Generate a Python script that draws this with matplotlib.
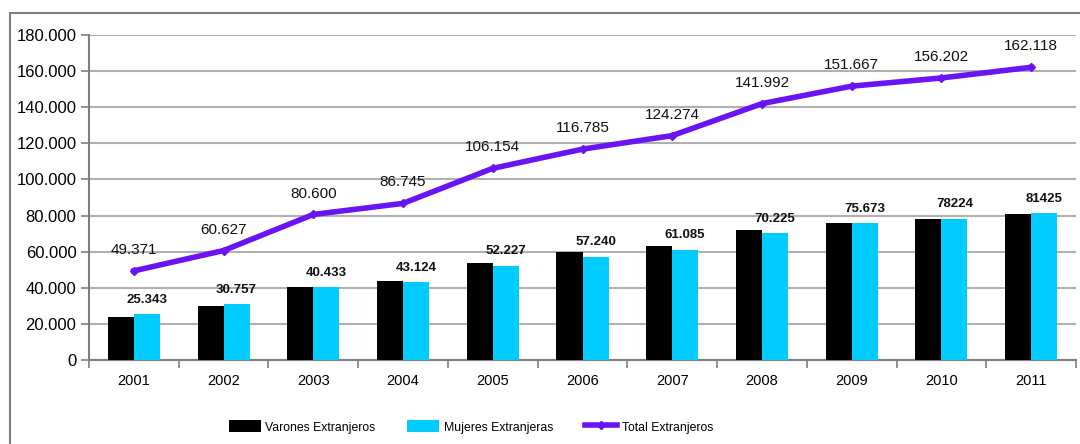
import matplotlib
matplotlib.use("Agg")
import matplotlib.pyplot as plt
from matplotlib.patches import Rectangle
from matplotlib.ticker import FuncFormatter

plt.rcParams['font.family'] = ['Liberation Sans', 'DejaVu Sans']

years = ["2001", "2002", "2003", "2004", "2005", "2006", "2007", "2008", "2009", "2010", "2011"]
varones = [24028, 29870, 40167, 43621, 53927, 59545, 63189, 71767, 75994, 77978, 80693]
mujeres = [25343, 30757, 40433, 43124, 52227, 57240, 61085, 70225, 75673, 78224, 81425]
total = [49371, 60627, 80600, 86745, 106154, 116785, 124274, 141992, 151667, 156202, 162118]
mujeres_labels = ["25.343", "30.757", "40.433", "43.124", "52.227", "57.240", "61.085", "70.225", "75.673", "78224", "81425"]
total_labels = ["49.371", "60.627", "80.600", "86.745", "106.154", "116.785", "124.274", "141.992", "151.667", "156.202", "162.118"]

fig = plt.figure(figsize=(10.8, 4.44), dpi=100)
fig.patch.set_facecolor('white')
# outer frame
fig.add_artist(Rectangle((10/1080, 1-13/444 - 2), 3, 2, transform=fig.transFigure,
                         fill=False, edgecolor='#7f7f7f', linewidth=1.5, clip_on=False))

ax = fig.add_axes([89/1080, 1-360/444, (1076-89)/1080, (360-35)/444])
x = list(range(len(years)))
w = 0.29
hv = ax.bar([i - w/2 for i in x], varones, width=w, color='black', label='Varones Extranjeros', zorder=3)
hm = ax.bar([i + w/2 for i in x], mujeres, width=w, color='#00CCFF', label='Mujeres Extranjeras', zorder=3)
ht, = ax.plot(x, total, color='#6A14F5', linewidth=4, marker='D', markersize=4.5,
              label='Total Extranjeros', zorder=4)

for i in x:
    ax.annotate(mujeres_labels[i], (i + w/2, mujeres[i]), xytext=(0, 6), textcoords='offset points',
                ha='center', va='bottom', fontsize=9.5, fontweight='bold', color='#111111', zorder=5)
    ax.annotate(total_labels[i], (i, total[i]), xytext=(0, 10), textcoords='offset points',
                ha='center', va='bottom', fontsize=11, color='#111111', zorder=5)

ax.set_xlim(-0.5, len(years) - 0.5)
ax.set_ylim(0, 180000)
ax.set_yticks(range(0, 180001, 20000))
ax.yaxis.set_major_formatter(FuncFormatter(lambda v, p: f"{int(v):,}".replace(',', '.')))
ax.set_xticks(x)
ax.set_xticklabels(years, fontsize=10.5)
ax.set_xticks([i - 0.5 for i in range(len(years) + 1)], minor=True)
ax.tick_params(axis='x', which='major', length=0, pad=10)
ax.tick_params(axis='x', which='minor', length=6, color='#7f7f7f', width=1.2)
ax.tick_params(axis='y', labelsize=12, length=6, color='#7f7f7f', width=1.2, pad=3)
ax.grid(axis='y', color='#b0b0b0', linewidth=1.5, zorder=0)
ax.set_axisbelow(True)
for s in ['top', 'right']:
    ax.spines[s].set_visible(False)
for s in ['left', 'bottom']:
    ax.spines[s].set_color('#7f7f7f')
    ax.spines[s].set_linewidth(1.5)

leg = fig.legend([hv, hm, ht], ['Varones Extranjeros', 'Mujeres Extranjeras', 'Total Extranjeros'],
                 loc='center', bbox_to_anchor=(471/1080, 1-427/444), ncol=3, frameon=False,
                 fontsize=8.8, handlelength=2.6, handleheight=1.1, columnspacing=2.6, handletextpad=0.4)

fig.savefig('out.png', dpi=100, facecolor='white')
